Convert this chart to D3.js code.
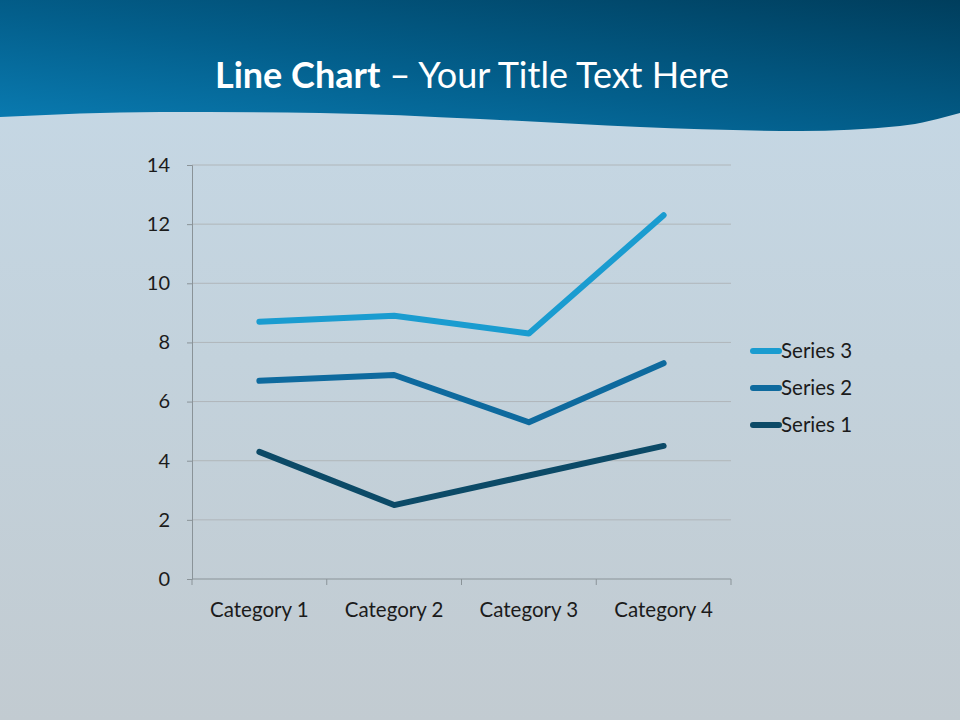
<!DOCTYPE html>
<html>
<head>
<meta charset="utf-8">
<script src="https://cdn.jsdelivr.net/npm/d3@7"></script>
<style>
  html, body { margin: 0; padding: 0; background: #c4d2dc; }
  svg { display: block; }
</style>
</head>
<body>
<svg id="chart" width="960" height="720"></svg>
<script>
// data (stacked line chart, raw values per series)
const categories = ["Category 1", "Category 2", "Category 3", "Category 4"];
const series1 = [4.3, 2.5, 3.5, 4.5];
const series2 = [2.4, 4.4, 1.8, 2.8];
const series3 = [2, 2, 3, 5];
const seriesNames = ["Series 1", "Series 2", "Series 3"];
const seriesColors = ["#0c4a67", "#0e6a9e", "#1a9cd0"];
const yTicks = [0, 2, 4, 6, 8, 10, 12, 14];
// wave edge of the header band (decoration)
const wavePoints = [[0, 117], [160, 112], [320, 113], [480, 119], [640, 127], [800, 131], [900, 126], [960, 113]];

const svg = d3.select("#chart");
const width = +svg.attr("width");
const height = +svg.attr("height");
const font = "Lato, 'Open Sans', sans-serif";

const defs = svg.append("defs");

// background gradient
const bg = defs.append("linearGradient")
  .attr("id", "bg-grad")
  .attr("x1", "0%").attr("y1", "0%")
  .attr("x2", "0%").attr("y2", "100%");
bg.append("stop").attr("offset", "0%").attr("stop-color", "#c6d9e7");
bg.append("stop").attr("offset", "50%").attr("stop-color", "#c3d2dc");
bg.append("stop").attr("offset", "100%").attr("stop-color", "#c2cbd1");

// header gradient
const hd = defs.append("linearGradient")
  .attr("id", "hd-grad")
  .attr("x1", "0%").attr("y1", "100%")
  .attr("x2", "100%").attr("y2", "0%");
hd.append("stop").attr("offset", "0%").attr("stop-color", "#0a7db4");
hd.append("stop").attr("offset", "45%").attr("stop-color", "#035f8c");
hd.append("stop").attr("offset", "100%").attr("stop-color", "#003e5d");

svg.append("rect")
  .attr("width", width)
  .attr("height", height)
  .attr("fill", "url(#bg-grad)");

// header band with wavy bottom edge
const waveLine = d3.line().curve(d3.curveMonotoneX);
const waveD = waveLine(wavePoints.slice().reverse());
svg.append("path")
  .attr("d", `M0,0 L${width},0 L${waveD.slice(1)} Z`)
  .attr("fill", "url(#hd-grad)");

// title
const title = svg.append("text")
  .attr("x", 472)
  .attr("y", 88)
  .attr("text-anchor", "middle")
  .attr("fill", "#ffffff")
  .style("font-family", font)
  .style("font-size", "36px");
title.append("tspan").attr("font-weight", "bold").text("Line Chart");
title.append("tspan").text(" \u2013 Your Title Text Here");

// chart area
const margin = { top: 165, right: 229, bottom: 141, left: 192 };
const innerWidth = width - margin.left - margin.right;
const innerHeight = height - margin.top - margin.bottom;

const g = svg.append("g")
  .attr("transform", `translate(${margin.left},${margin.top})`);

const x = d3.scaleBand()
  .domain(categories)
  .range([0, innerWidth])
  .padding(0);

const y = d3.scaleLinear()
  .domain([0, 14])
  .range([innerHeight, 0]);

// gridlines
g.append("g")
  .selectAll("line")
  .data(yTicks.filter(d => d > 0))
  .enter()
  .append("line")
  .attr("x1", 0)
  .attr("x2", innerWidth)
  .attr("y1", d => y(d))
  .attr("y2", d => y(d))
  .attr("stroke", "#b0b6ba")
  .attr("stroke-width", 1);

// y axis
const yAxis = g.append("g")
  .call(d3.axisLeft(y).tickValues(yTicks).tickSize(5).tickPadding(17));
yAxis.select(".domain").attr("stroke", "#8a9398");
yAxis.selectAll(".tick line").attr("stroke", "#8a9398");
yAxis.selectAll("text")
  .attr("fill", "#1b1b1b")
  .style("font-family", font)
  .style("font-size", "20px");

// x axis (labels at band centres, ticks at band edges)
const xAxis = g.append("g")
  .attr("transform", `translate(0,${innerHeight})`)
  .call(d3.axisBottom(x).tickSize(0).tickPadding(23));
xAxis.select(".domain").remove();
xAxis.selectAll("text")
  .attr("fill", "#1b1b1b")
  .style("font-family", font)
  .style("font-size", "20.5px");

const edges = categories.map(c => x(c)).concat([x.range()[1]]);
xAxis.append("line")
  .attr("x1", 0).attr("x2", innerWidth)
  .attr("stroke", "#8a9398");
xAxis.selectAll("line.edge")
  .data(edges)
  .enter()
  .append("line")
  .attr("class", "edge")
  .attr("x1", d => d).attr("x2", d => d)
  .attr("y1", 0).attr("y2", 6)
  .attr("stroke", "#8a9398");

// stacked series
const table = categories.map((c, i) => ({
  category: c,
  "Series 1": series1[i],
  "Series 2": series2[i],
  "Series 3": series3[i]
}));

const stacked = d3.stack().keys(seriesNames)(table);

const line = d3.line()
  .x(d => x(d.data.category) + x.bandwidth() / 2)
  .y(d => y(d[1]));

g.append("g")
  .selectAll("path")
  .data(stacked)
  .enter()
  .append("path")
  .attr("d", line)
  .attr("fill", "none")
  .attr("stroke", (d, i) => seriesColors[i])
  .attr("stroke-width", 6)
  .attr("stroke-linecap", "round")
  .attr("stroke-linejoin", "round");

// legend (Series 3 on top)
const legend = svg.append("g")
  .attr("transform", "translate(753,351)");

const legendItems = legend.selectAll("g")
  .data(seriesNames.slice().reverse())
  .enter()
  .append("g")
  .attr("transform", (d, i) => `translate(0,${i * 37})`);

legendItems.append("line")
  .attr("x1", 0).attr("x2", 26)
  .attr("stroke", d => seriesColors[seriesNames.indexOf(d)])
  .attr("stroke-width", 6)
  .attr("stroke-linecap", "round");

legendItems.append("text")
  .attr("x", 28)
  .attr("dy", "0.35em")
  .attr("fill", "#1b1b1b")
  .style("font-family", font)
  .style("font-size", "20.5px")
  .text(d => d);
</script>
</body>
</html>
